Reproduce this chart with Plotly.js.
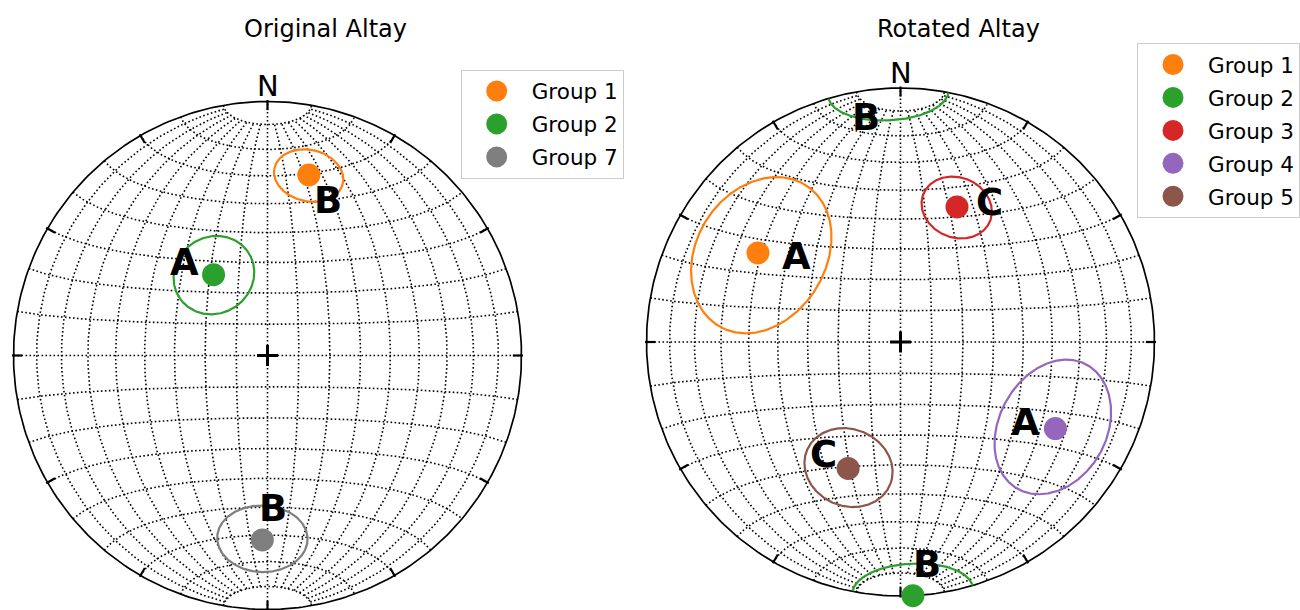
<!DOCTYPE html>
<html>
<head>
<meta charset="utf-8">
<script src="https://cdn.plot.ly/plotly-3.0.1.min.js"></script>
<style>
html,body{margin:0;padding:0;background:#ffffff;}
#chart{width:1300px;height:610px;}
</style>
</head>
<body>
<div id="chart"></div>
<script>
// ---------------- data (trend / plunge in degrees, cone half-angle in degrees) ----------------
const leftTitle = 'Original Altay';
const rightTitle = 'Rotated Altay';

const leftGroups = ['Group 1', 'Group 2', 'Group 7'];
const leftTrend  = [12.9, 326.3, 181.6];
const leftPlunge = [27.9, 58.6, 28.2];
const leftCone   = [9.6, 12.7, 12.4];
const leftLabels = ['B', 'A', 'B'];

const rightGroups = ['Group 1', 'Group 2', 'Group 3', 'Group 4', 'Group 5'];
const rightTrend  = [302.0, 177.2, 22.7, 119.2, 202.5];
const rightPlunge = [34.2, 0.0, 41.9, 30.8, 45.2];
const rightCone   = [23.5, 13.7, 10.5, 19.8, 13.3];
const rightLabels = ['A', 'B', 'C', 'A', 'C'];

const northLabel = 'N';
const tickAzimuths = [0, 30, 60, 90, 120, 150, 180, 210, 240, 270, 300, 330];
const gridStep = 10;

// ---------------- styles / layout ----------------
const leftColors  = ['#ff7f0e', '#2ca02c', '#7f7f7f'];
const rightColors = ['#ff7f0e', '#2ca02c', '#d62728', '#9467bd', '#8c564b'];
// label offsets in px from the plotted point (right, down)
const leftShift  = [[19, 26], [-29, -12], [11, -31]];
const rightShift = [[39, 4], [14, -31], [33, -4.5], [-30, -6], [-25, -13.5]];
const antipodeShift = [[null], [-22, 29], [null], [null], [null]];

const W = 1300, H = 610, R = 254;
const FONT = 'DejaVu Sans, Liberation Sans, sans-serif';

// ---------------- projection helpers (lower hemisphere, equal area) ----------------
const d2r = Math.PI / 180;
function tp2v(trend, plunge) {
  const t = trend * d2r, p = plunge * d2r;
  return [Math.cos(p) * Math.cos(t), Math.cos(p) * Math.sin(t), Math.sin(p)]; // N, E, Down
}
function lonlat2v(lon, lat) {
  const lo = lon * d2r, la = lat * d2r;
  return [Math.sin(la), Math.cos(la) * Math.sin(lo), Math.cos(la) * Math.cos(lo)];
}
function proj(v) {
  const d = Math.max(v[2], 0);
  const s = Math.sqrt(1 + d);
  return [v[1] / s, v[0] / s];
}
function cross(a, b) { return [a[1]*b[2]-a[2]*b[1], a[2]*b[0]-a[0]*b[2], a[0]*b[1]-a[1]*b[0]]; }
function norm(a) { const l = Math.hypot(a[0], a[1], a[2]); return [a[0]/l, a[1]/l, a[2]/l]; }

function gridXY() {
  const xs = [], ys = [];
  for (let lat = -90 + gridStep; lat <= 90 - gridStep; lat += gridStep) {
    for (let lon = -90; lon <= 90; lon += 1) {
      const p = proj(lonlat2v(lon, lat)); xs.push(p[0]); ys.push(p[1]);
    }
    xs.push(null); ys.push(null);
  }
  for (let lon = -90 + gridStep; lon <= 90 - gridStep; lon += gridStep) {
    const cap = lon === 0 ? 90 : 90 - gridStep;
    for (let lat = -cap; lat <= cap; lat += 1) {
      const p = proj(lonlat2v(lon, lat)); xs.push(p[0]); ys.push(p[1]);
    }
    xs.push(null); ys.push(null);
  }
  return [xs, ys];
}
function circleXY() {
  const xs = [], ys = [];
  for (let a = 0; a <= 360; a += 1) { xs.push(Math.sin(a*d2r)); ys.push(Math.cos(a*d2r)); }
  return [xs, ys];
}
function ticksXY() {
  const xs = [], ys = [];
  tickAzimuths.forEach(a => {
    const s = Math.sin(a*d2r), c = Math.cos(a*d2r);
    xs.push(1.006*s, 0.966*s, null); ys.push(1.006*c, 0.966*c, null);
  });
  return [xs, ys];
}
function coneXY(trend, plunge, alpha) {
  const p = tp2v(trend, plunge);
  const ref = Math.abs(p[2]) < 0.9 ? [0, 0, 1] : [1, 0, 0];
  const u = norm(cross(p, ref)), v = cross(p, u);
  const ca = Math.cos(alpha*d2r), sa = Math.sin(alpha*d2r);
  const xs = [], ys = [];
  let prev = null;
  for (let t = 0; t <= 360; t += 0.5) {
    const ct = Math.cos(t*d2r), st = Math.sin(t*d2r);
    let q = [0,1,2].map(i => ca*p[i] + sa*(ct*u[i] + st*v[i]));
    const lower = q[2] >= 0;
    if (!lower) q = q.map(x => -x);
    if (prev !== null && prev !== lower) { xs.push(null); ys.push(null); }
    const pr = proj(q); xs.push(pr[0]); ys.push(pr[1]);
    prev = lower;
  }
  return [xs, ys];
}

// ---------------- build figure ----------------
const nets = [
  {xa: 'x', ya: 'y', cx: 267.5, cy: 355.5, box: [0, 45, 590, 610], legend: 'legend',
   groups: leftGroups, trend: leftTrend, plunge: leftPlunge, cone: leftCone, labels: leftLabels,
   colors: leftColors, shift: leftShift, title: leftTitle, titleX: 326, titleY: 29},
  {xa: 'x2', ya: 'y2', cx: 900.5, cy: 342, box: [600, 30, 1200, 610], legend: 'legend2',
   groups: rightGroups, trend: rightTrend, plunge: rightPlunge, cone: rightCone, labels: rightLabels,
   colors: rightColors, shift: rightShift, antipode: antipodeShift, title: rightTitle, titleX: 958.5, titleY: 29}
];

const traces = [];
const annotations = [];
const layout = {
  width: W, height: H,
  margin: {l: 0, r: 0, t: 0, b: 0},
  paper_bgcolor: '#ffffff', plot_bgcolor: 'rgba(0,0,0,0)',
  showlegend: true,
  font: {family: FONT, color: '#000000'},
  annotations: annotations
};

nets.forEach((n, k) => {
  const sfx = k === 0 ? '' : '2';
  const [x0, y0, x1, y1] = n.box;
  layout['xaxis' + sfx] = {domain: [x0 / W, x1 / W], range: [(x0 - n.cx) / R, (x1 - n.cx) / R],
    visible: false, fixedrange: true, anchor: n.ya};
  layout['yaxis' + sfx] = {domain: [(H - y1) / H, (H - y0) / H], range: [(n.cy - y1) / R, (n.cy - y0) / R],
    visible: false, fixedrange: true, anchor: n.xa};

  const g = gridXY();
  traces.push({type: 'scatter', mode: 'lines', x: g[0], y: g[1], xaxis: n.xa, yaxis: n.ya,
    line: {color: '#000000', width: 1.6, dash: '1.6px,2.4px'}, hoverinfo: 'skip', showlegend: false});
  const c = circleXY();
  traces.push({type: 'scatter', mode: 'lines', x: c[0], y: c[1], xaxis: n.xa, yaxis: n.ya,
    line: {color: '#000000', width: 1.7}, hoverinfo: 'skip', showlegend: false});
  const t = ticksXY();
  traces.push({type: 'scatter', mode: 'lines', x: t[0], y: t[1], xaxis: n.xa, yaxis: n.ya,
    line: {color: '#000000', width: 2.2}, hoverinfo: 'skip', showlegend: false});
  traces.push({type: 'scatter', mode: 'markers', x: [0], y: [0], xaxis: n.xa, yaxis: n.ya,
    marker: {symbol: 'cross-thin', size: 15, line: {color: '#000000', width: 3}},
    hoverinfo: 'skip', showlegend: false});

  n.groups.forEach((name, i) => {
    const cc = coneXY(n.trend[i], n.plunge[i], n.cone[i]);
    traces.push({type: 'scatter', mode: 'lines', x: cc[0], y: cc[1], xaxis: n.xa, yaxis: n.ya,
      line: {color: n.colors[i], width: 2.2}, hoverinfo: 'skip', showlegend: false});
  });
  n.groups.forEach((name, i) => {
    const pt = proj(tp2v(n.trend[i], n.plunge[i]));
    traces.push({type: 'scatter', mode: 'markers', name: name, x: [pt[0]], y: [pt[1]],
      xaxis: n.xa, yaxis: n.ya, legend: n.legend, legendgroup: n.legend + '_' + i,
      cliponaxis: false, marker: {size: 18, color: n.colors[i], line: {width: 5, color: n.colors[i]}}});
    annotations.push({xref: n.xa, yref: n.ya, x: pt[0], y: pt[1], text: n.labels[i], showarrow: false,
      xanchor: 'center', yanchor: 'middle', xshift: n.shift[i][0], yshift: -n.shift[i][1],
      font: {family: FONT, size: 37, weight: 'bold', color: '#000000'}});
    if (n.antipode && n.antipode[i].length === 2) {
      const v = tp2v(n.trend[i], n.plunge[i]).map(x => -x);
      v[2] = Math.max(v[2], 0);
      const ap = proj(v);
      annotations.push({xref: n.xa, yref: n.ya, x: ap[0], y: ap[1], text: n.labels[i], showarrow: false,
        xanchor: 'center', yanchor: 'middle', xshift: n.antipode[i][0], yshift: -n.antipode[i][1],
        font: {family: FONT, size: 37, weight: 'bold', color: '#000000'}});
    }
  });

  annotations.push({xref: n.xa, yref: n.ya, x: 0, y: 1, text: northLabel, showarrow: false,
    xanchor: 'center', yanchor: 'bottom', yshift: -4,
    font: {family: FONT, size: 29, color: '#000000'}});
  annotations.push({xref: 'paper', yref: 'paper', x: n.titleX / W, y: (H - n.titleY) / H, text: n.title,
    showarrow: false, xanchor: 'center', yanchor: 'middle',
    font: {family: FONT, size: 24, color: '#000000'}});
});

const legendCommon = {xanchor: 'left', yanchor: 'top', bgcolor: 'rgba(255,255,255,0.85)',
  bordercolor: '#cccccc', borderwidth: 1, tracegroupgap: 2, itemsizing: 'trace', itemwidth: 60,
  font: {family: FONT, size: 21.5, color: '#000000'}};
layout.legend = Object.assign({}, legendCommon, {x: 460.7 / W, y: (H - 69.5) / H});
layout.legend2 = Object.assign({}, legendCommon, {x: 1137.3 / W, y: (H - 43) / H});

Plotly.newPlot('chart', traces, layout, {displayModeBar: false, staticPlot: true});
</script>
</body>
</html>
